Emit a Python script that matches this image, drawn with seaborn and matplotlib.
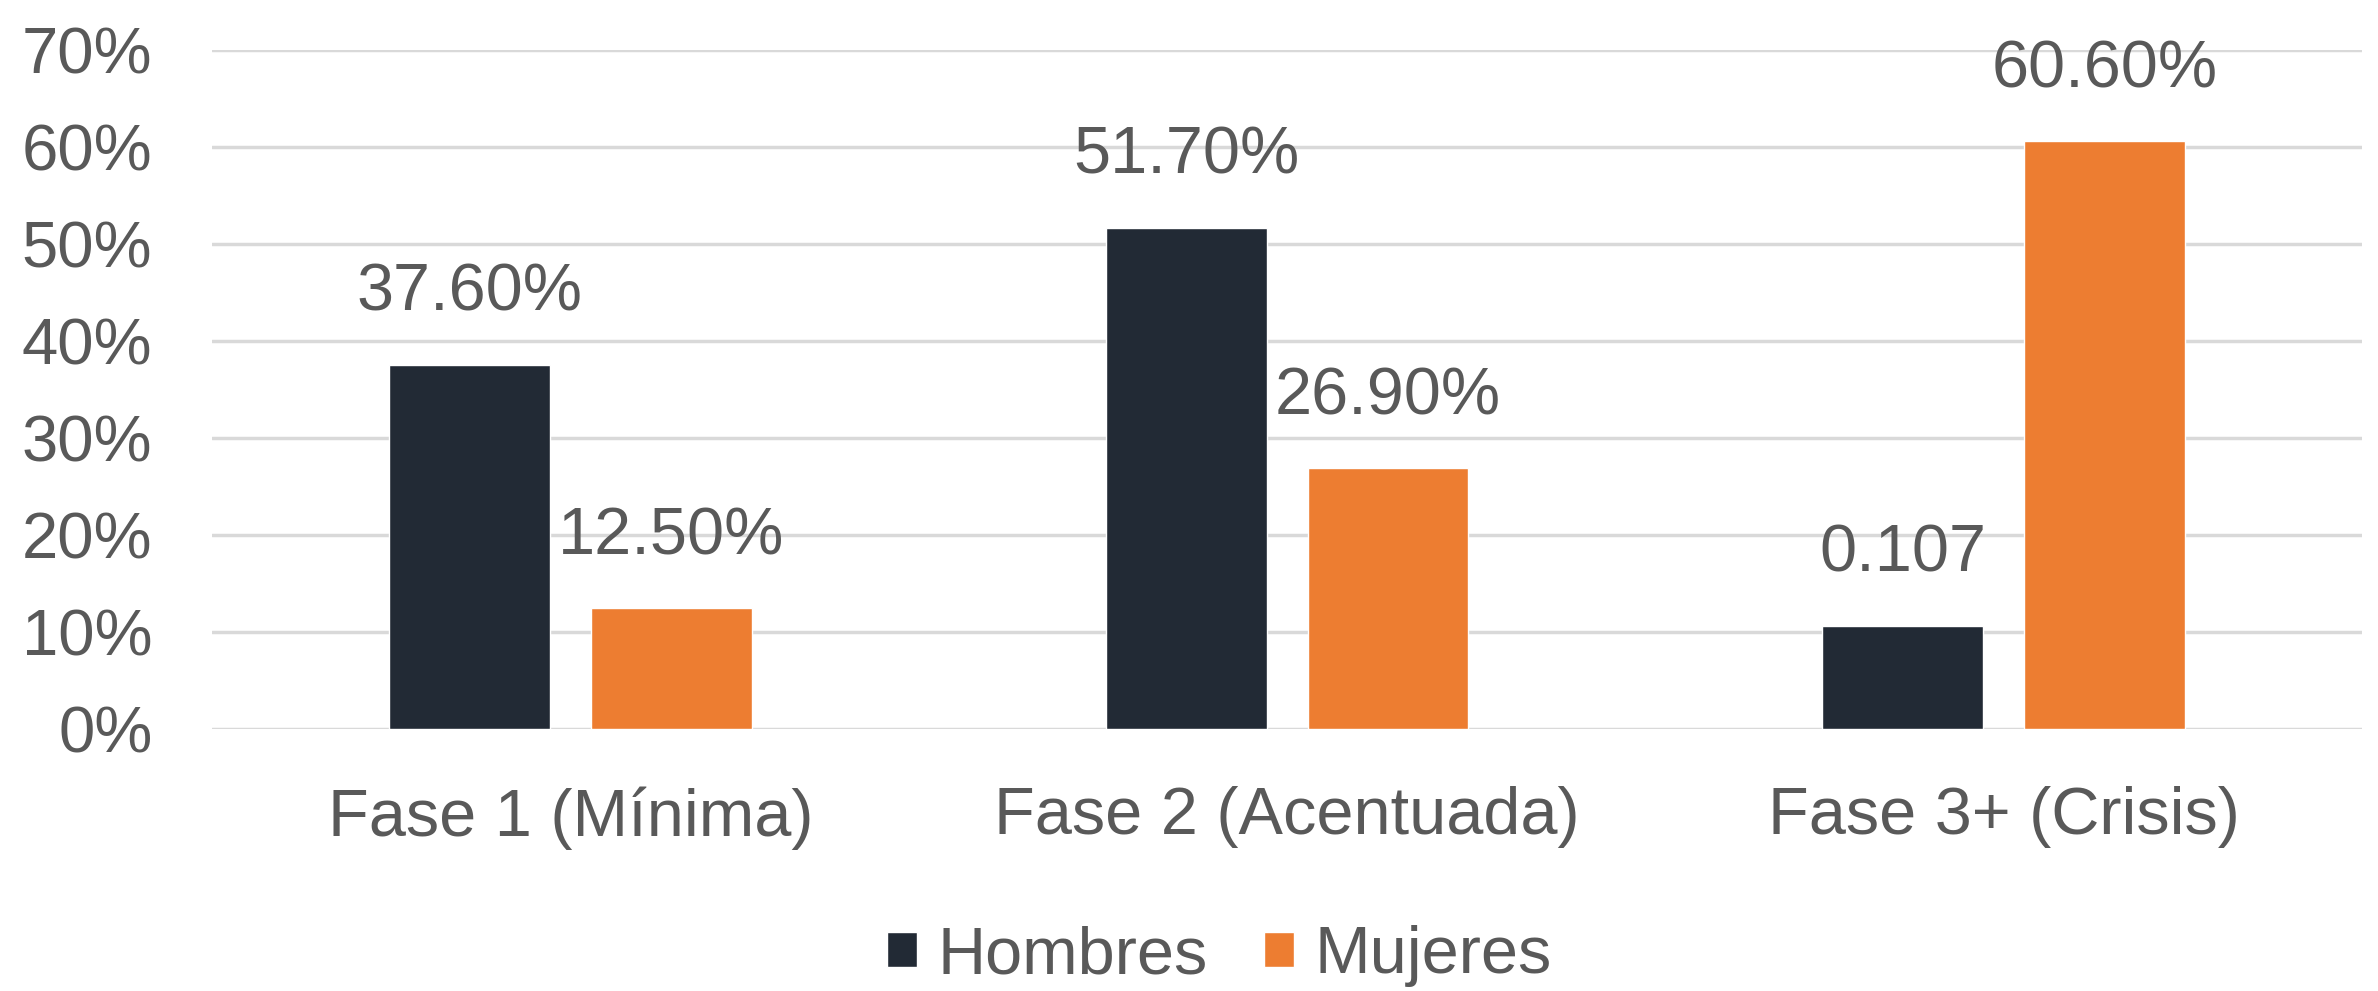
import numpy as np
import pandas as pd
import matplotlib
matplotlib.use('Agg')
import matplotlib.pyplot as plt
import seaborn as sns
from matplotlib.ticker import PercentFormatter

# =============================================================
# DATA
# =============================================================
fases   = ['Fase 1 (Mínima)', 'Fase 2 (Acentuada)', 'Fase 3+ (Crisis)']
grupos  = ['Hombres', 'Mujeres']
hombres = [0.376, 0.517, 0.107]
mujeres = [0.125, 0.269, 0.606]
etiq_h  = ['37.60%', '51.70%', '0.107']
etiq_m  = ['12.50%', '26.90%', '60.60%']
y_ticks = [0.0, 0.1, 0.2, 0.3, 0.4, 0.5, 0.6, 0.7]

colores = {'Hombres': '#222A35', 'Mujeres': '#ED7D31'}
gris    = '#595959'

df = pd.DataFrame({
    'Fase':  fases * 2,
    'Grupo': ['Hombres'] * 3 + ['Mujeres'] * 3,
    'Valor': hombres + mujeres,
})

# =============================================================
# FIGURE
# =============================================================
sns.set_style('white')
plt.rcParams['font.family'] = ['Liberation Sans', 'DejaVu Sans']

fig = plt.figure(figsize=(23.78, 9.91), dpi=100)
ax  = fig.add_axes([0.0892, 0.2639, 0.9041, 0.6856])

sns.barplot(data=df, x='Fase', y='Valor', hue='Grupo',
            order=fases, hue_order=grupos, palette=colores,
            width=0.563, gap=0.203, ax=ax, legend=True,
            saturation=1, errorbar=None, zorder=3)

# value labels
etiquetas = {'Hombres': etiq_h, 'Mujeres': etiq_m}
for cont, grupo in zip(ax.containers, grupos):
    for bar, txt in zip(cont, etiquetas[grupo]):
        ax.annotate(txt, (bar.get_x() + bar.get_width() / 2, bar.get_height()),
                    xytext=(0, 51), textcoords='offset points',
                    ha='center', va='center', fontsize=48, color=gris)

ax.set_ylim(0, 0.7)
ax.set_xlim(-0.5, 2.5)
ax.set_yticks(y_ticks)
ax.yaxis.set_major_formatter(PercentFormatter(1.0, decimals=0))
ax.grid(axis='y', color='#D9D9D9', linewidth=2.5, zorder=0)
ax.set_axisbelow(True)
for s in ax.spines.values():
    s.set_visible(False)

ax.tick_params(axis='y', length=0, pad=43, labelsize=47, labelcolor=gris)
ax.tick_params(axis='x', length=0, pad=41, labelsize=48, labelcolor=gris)
ax.set_xlabel('')
ax.set_ylabel('')

ax.legend(loc='center', bbox_to_anchor=(0.5127, 0.035),
          bbox_transform=fig.transFigure, ncol=2, frameon=False,
          fontsize=48, handlelength=0.45, handleheight=0.45,
          handletextpad=0.3, columnspacing=0.85, labelcolor=gris)

plt.savefig('out.png', dpi=100)
